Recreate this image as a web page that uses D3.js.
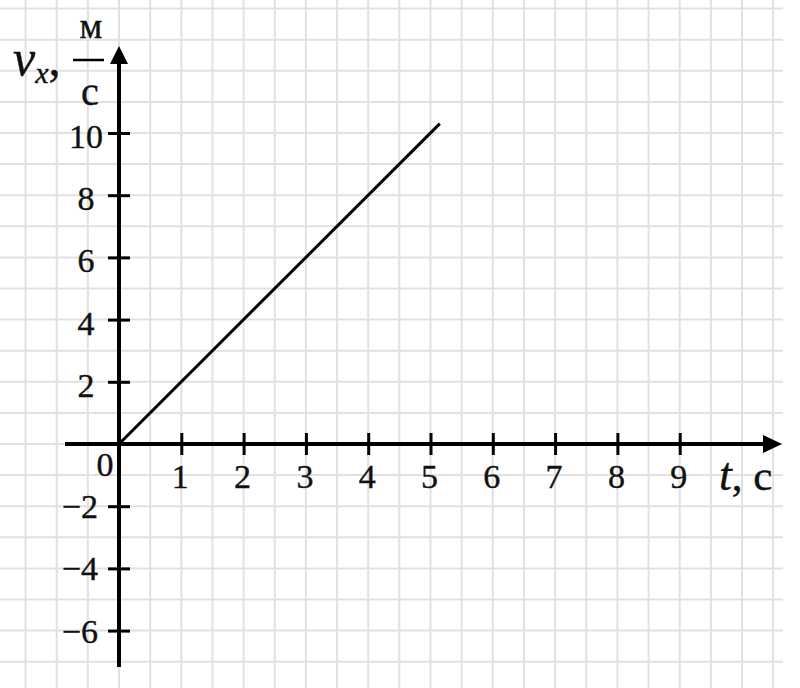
<html lang="ru">
<head>
<meta charset="utf-8">
<title>v_x(t)</title>
<script src="https://d3js.org/d3.v7.min.js"></script>
<style>
  body { margin: 0; background: #fff; }
  svg { display: block; }
  .lbl { font-family: "Liberation Serif", serif; font-size: 34px; fill: #111; stroke: #111; stroke-width: 0.4px; }
  .ttl { font-family: "Liberation Serif", serif; fill: #111; stroke: #111; stroke-width: 0.4px; }
</style>
</head>
<body>
<script>
// data
var tValues = [0, 5.15];
var vValues = [0, 10.3];
var xTickValues = [1, 2, 3, 4, 5, 6, 7, 8, 9];
var yTickValues = [-6, -4, -2, 2, 4, 6, 8, 10];

var width = 800, height = 688;

var svg = d3.select("body").append("svg")
    .attr("width", width)
    .attr("height", height);

// one unit of t = 62.3px, one unit of v = 31.1px
var x = d3.scaleLinear().domain([0, 10]).range([119, 742]);
var y = d3.scaleLinear().domain([0, 10]).range([444, 133]);

// squared paper
var grid = svg.append("g").attr("stroke", "#e1e1e1").attr("stroke-width", 2);
grid.selectAll("line.v")
    .data(d3.range(-1.5, 10.51, 0.5))
    .enter().append("line")
    .attr("x1", d => x(d)).attr("x2", d => x(d))
    .attr("y1", 0).attr("y2", height);
grid.selectAll("line.h")
    .data(d3.range(-7, 14.1, 1))
    .enter().append("line")
    .attr("x1", 0).attr("x2", 783)
    .attr("y1", d => y(d)).attr("y2", d => y(d));

// ticks crossing the axes
svg.append("g")
    .attr("transform", "translate(0," + (y(0) - 11) + ")")
    .call(d3.axisBottom(x).tickValues(xTickValues).tickSize(22).tickFormat(""));
svg.append("g")
    .attr("transform", "translate(" + (x(0) + 11) + ",0)")
    .call(d3.axisLeft(y).tickValues(yTickValues).tickSize(22).tickFormat(""));
svg.selectAll(".domain").remove();
svg.selectAll(".tick line").attr("stroke", "#000").attr("stroke-width", 3);

// axis lines + arrows
svg.append("line")
    .attr("x1", 65).attr("x2", 766)
    .attr("y1", y(0)).attr("y2", y(0))
    .attr("stroke", "#000").attr("stroke-width", 4);
svg.append("path")
    .attr("d", "M782," + y(0) + "L763," + (y(0) - 9) + "L763," + (y(0) + 9) + "Z")
    .attr("fill", "#000");
svg.append("line")
    .attr("x1", x(0)).attr("x2", x(0))
    .attr("y1", 667).attr("y2", 60)
    .attr("stroke", "#000").attr("stroke-width", 4);
svg.append("path")
    .attr("d", "M" + x(0) + ",46L" + (x(0) - 9) + ",64L" + (x(0) + 9) + ",64Z")
    .attr("fill", "#000");

// tick labels
svg.selectAll("text.xl")
    .data(xTickValues)
    .enter().append("text")
    .attr("class", "lbl")
    .attr("x", d => x(d) - 1)
    .attr("y", y(0) + 44)
    .attr("text-anchor", "middle")
    .text(d => d);
svg.selectAll("text.yl")
    .data(yTickValues)
    .enter().append("text")
    .attr("class", "lbl")
    .attr("x", d => d > 0 ? 86 : 98)
    .attr("y", d => y(d) + (d > 0 ? 15 : 12))
    .attr("text-anchor", d => d > 0 ? "middle" : "end")
    .text(d => d < 0 ? "\u2212" + (-d) : d);
svg.append("text")
    .attr("class", "lbl")
    .attr("x", 105).attr("y", 476)
    .attr("text-anchor", "middle")
    .text("0");

// the line v_x(t)
var line = d3.line()
    .x((d, i) => x(tValues[i]))
    .y(d => y(d));
svg.append("path")
    .datum(vValues)
    .attr("d", line)
    .attr("fill", "none")
    .attr("stroke", "#000")
    .attr("stroke-width", 3);

// axis title t, с
var tt = svg.append("text").attr("class", "ttl")
    .attr("x", 719).attr("y", 490).attr("font-size", 43);
tt.append("tspan").attr("font-style", "italic").attr("font-size", 46).text("t");
tt.append("tspan").text(", с");

// axis title v_x, м/с
var vt = svg.append("text").attr("class", "ttl")
    .attr("x", 13).attr("y", 75).attr("font-size", 50);
vt.append("tspan").attr("font-style", "italic").text("v");
vt.append("tspan").attr("font-style", "italic").attr("font-size", 30)
    .attr("dx", 0).attr("dy", 8).text("x");
vt.append("tspan").attr("dy", -8).attr("font-size", 48).text(",");

svg.append("text").attr("class", "ttl")
    .attr("x", 91).attr("y", 38)
    .attr("font-size", 36)
    .attr("text-anchor", "middle")
    .text("м");
svg.append("line")
    .attr("x1", 73).attr("x2", 104)
    .attr("y1", 60).attr("y2", 60)
    .attr("stroke", "#000").attr("stroke-width", 2.5);
svg.append("text").attr("class", "ttl")
    .attr("x", 90).attr("y", 105)
    .attr("font-size", 40)
    .attr("text-anchor", "middle")
    .text("с");
</script>
</body>
</html>
